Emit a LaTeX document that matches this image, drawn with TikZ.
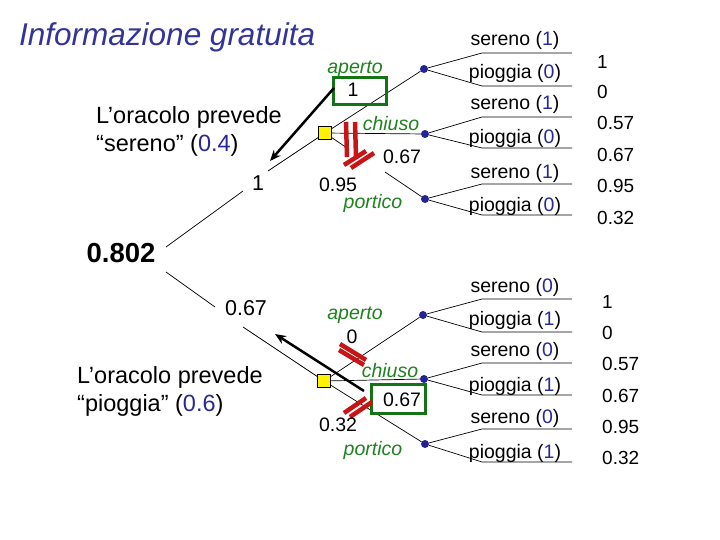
\documentclass[tikz,border=0pt]{standalone}
\usepackage{fontspec}
\setmainfont{Liberation Sans}
\usetikzlibrary{arrows.meta}
\definecolor{ttblue}{RGB}{51,51,153}
\definecolor{numblue}{RGB}{40,40,150}
\definecolor{grn}{RGB}{30,130,30}
\definecolor{boxgrn}{RGB}{20,115,20}
\definecolor{mred}{RGB}{200,20,20}
\definecolor{dotblue}{RGB}{35,35,150}
\tikzset{
  branch/.style={line width=0.7pt, black},
  decision/.style={draw=black, line width=0.6pt, fill=yellow, minimum size=13pt, inner sep=0pt},
  chance/.style={circle, fill=dotblue, minimum size=8pt, inner sep=0pt},
  outlbl/.style={font=\fontsize{19.5}{21}\selectfont, inner sep=0pt},
  val/.style={font=\fontsize{19}{21}\selectfont, anchor=west, inner sep=0pt},
  altlbl/.style={font=\fontsize{19.5}{21}\selectfont\itshape, text=grn, inner sep=0pt},
  numlbl/.style={font=\fontsize{19.5}{21}\selectfont, inner sep=1pt},
  leftnum/.style={font=\fontsize{21.5}{23}\selectfont, inner sep=1pt},
  redmark/.style={line width=4.5pt, mred},
  bigarrow/.style={line width=2.5pt, -{Stealth[length=11pt,width=9pt]}},
  gbox/.style={draw=boxgrn, line width=3.5pt, inner sep=0pt},
}
\newcommand\outc[7]{%
  \coordinate (#1-a) at (482,#2); \coordinate (#1-ae) at (572,#2);
  \coordinate (#1-b) at (482,#3); \coordinate (#1-be) at (572,#3);
  \draw[branch] (#1) -- (#1-a) -- (#1-ae);
  \draw[branch] (#1) -- (#1-b) -- (#1-be);
  \node[outlbl] (#1-la) at (515,#4) {#6};
  \node[outlbl] (#1-lb) at (515,#5) {#7};
}
\begin{document}
\begin{tikzpicture}[x=1pt,y=-1pt]
\fill[white] (0,0) rectangle (720,540);
\useasboundingbox (0,0) rectangle (720,540);

% title
\node[anchor=west, inner sep=0pt, text=ttblue, font=\fontsize{31.5}{33}\selectfont\itshape] (title) at (19,37) {Informazione gratuita};

% root value
\node[inner sep=1pt, font=\fontsize{27.5}{29}\selectfont\bfseries] (root) at (121,253) {0.802};

% oracle labels
\node[anchor=west, align=left, inner sep=0pt, font=\fontsize{23.5}{28}\selectfont] (or1) at (96,131) {L’oracolo prevede\\“sereno” (\textcolor{numblue}{0.4})};
\node[anchor=west, align=left, inner sep=0pt, font=\fontsize{23.5}{28}\selectfont] (or2) at (77,391) {L’oracolo prevede\\“pioggia” (\textcolor{numblue}{0.6})};

% branch values
\node[leftnum] (v1) at (258,183) {1};
\node[leftnum] (v2) at (246,308) {0.67};

% decision squares and chance nodes
\node[decision] (sq1) at (325,133) {};
\node[decision] (sq2) at (324,381) {};
\node[chance] (cA1) at (424,69) {};
\node[chance] (cC1) at (425,134) {};
\node[chance] (cP1) at (425,199) {};
\node[chance] (cA2) at (423,315) {};
\node[chance] (cC2) at (424,379) {};
\node[chance] (cP2) at (425,444) {};

% left branches
\coordinate (l1a) at (166,247); \coordinate (l1b) at (243,191); \coordinate (l1c) at (268,171);
\coordinate (l2a) at (166,272); \coordinate (l2b) at (215,307); \coordinate (l2c) at (243,327);
\draw[branch] (l1a) -- (l1b);
\draw[branch] (l1c) -- (sq1);
\draw[branch] (l2a) -- (l2b);
\draw[branch] (l2c) -- (sq2);

% upper decision branches
\coordinate (p1a) at (347,148); \coordinate (p1b) at (385,172);
\draw[branch] (sq1) -- (cA1);
\draw[branch] (sq1) -- (cC1);
\draw[branch] (sq1) -- (p1a);
\draw[branch] (p1b) -- (cP1);

% lower decision branches
\draw[branch] (sq2) -- (cA2);
\draw[branch] (sq2) -- (cC2);
\draw[branch] (sq2) -- (cP2);

% outcomes upper
\outc{cA1}{53}{86}{40}{73}{sereno (\textcolor{numblue}{1})}{pioggia (\textcolor{numblue}{0})}
\outc{cC1}{117}{148}{104}{138}{sereno (\textcolor{numblue}{1})}{pioggia (\textcolor{numblue}{0})}
\outc{cP1}{184}{215}{173}{206}{sereno (\textcolor{numblue}{1})}{pioggia (\textcolor{numblue}{0})}
% outcomes lower
\outc{cA2}{299}{332}{287}{320}{sereno (\textcolor{numblue}{0})}{pioggia (\textcolor{numblue}{1})}
\outc{cC2}{363}{395}{351}{386}{sereno (\textcolor{numblue}{0})}{pioggia (\textcolor{numblue}{1})}
\outc{cP2}{429}{462}{418}{453}{sereno (\textcolor{numblue}{0})}{pioggia (\textcolor{numblue}{1})}

% values on the right
\node[val] (u1) at (597,62) {1};
\node[val] (u2) at (597,92) {0};
\node[val] (u3) at (597,123) {0.57};
\node[val] (u4) at (597,155) {0.67};
\node[val] (u5) at (597,186) {0.95};
\node[val] (u6) at (597,218) {0.32};
\node[val] (d1) at (602,302) {1};
\node[val] (d2) at (602,333) {0};
\node[val] (d3) at (602,364) {0.57};
\node[val] (d4) at (602,396) {0.67};
\node[val] (d5) at (602,427) {0.95};
\node[val] (d6) at (602,458) {0.32};

% green boxes
\node[gbox, minimum width=53pt, minimum height=27pt] (ubox) at (360,91) {};
\node[gbox, fill=white, minimum width=54pt, minimum height=29pt] (lbox) at (398.5,399) {};

% red marks
\draw[redmark] (346,122) -- (347,157);
\draw[redmark] (355,122) -- (356,157);
\draw[redmark] (344,165) -- (366,151);
\draw[redmark] (351,168) -- (374,153);
\draw[redmark] (340,344) -- (366,360);
\draw[redmark] (339,350) -- (364,365);
\draw[redmark] (344,413) -- (366,398);
\draw[redmark] (350,417) -- (372,402);

% upper tree labels
\node[altlbl] (ua) at (355,69) {aperto};
\node[numlbl] (uav) at (353,90) {1};
\node[altlbl] (uc) at (391,124) {chiuso};
\node[numlbl] (ucv) at (402,157) {0.67};
\node[numlbl] (upv) at (338,185) {0.95};
\node[altlbl] (up) at (373,203) {portico};

% lower tree labels
\node[altlbl] (la) at (355,315) {aperto};
\node[numlbl] (lav) at (352,337) {0};
\node[altlbl] (lc) at (390,371) {chiuso};
\node[numlbl] (lcv) at (402,400) {0.67};
\node[numlbl] (lpv) at (338,425) {0.32};
\node[altlbl] (lp) at (373,450) {portico};

% thick arrows
\coordinate (a1s) at (334,88); \coordinate (a1e) at (270,161);
\coordinate (a2s) at (364,391); \coordinate (a2e) at (275,334);
\draw[bigarrow] (a1s) -- (a1e);
\draw[bigarrow] (a2s) -- (a2e);
\end{tikzpicture}
\end{document}
